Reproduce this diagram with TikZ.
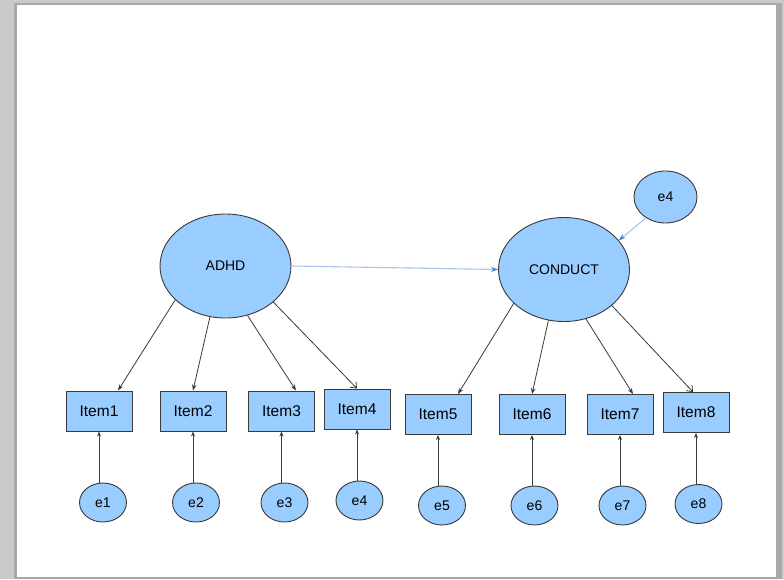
\documentclass[tikz,border=0pt]{standalone}
\usepackage{fontspec}
\setmainfont{Liberation Sans}
\usetikzlibrary{shapes.geometric,arrows.meta}
\definecolor{nodefill}{HTML}{99CCFF}
\definecolor{edgegray}{HTML}{3A3A3A}
\definecolor{lightblueline}{HTML}{A9C4EE}
\definecolor{bluetip}{HTML}{4A7FDB}
\definecolor{pagegray}{HTML}{C9CAC9}
\definecolor{shadowgray}{HTML}{A8A9A8}
\tikzset{
  latent/.style={ellipse, draw=edgegray, fill=nodefill, line width=0.9pt, inner sep=0pt,
    minimum width=131pt, minimum height=104pt, font=\fontsize{14}{16}\selectfont},
  errbig/.style={ellipse, draw=edgegray, fill=nodefill, line width=0.9pt, inner sep=0pt,
    minimum width=63pt, minimum height=52pt, font=\fontsize{14}{16}\selectfont},
  itembox/.style={rectangle, draw=edgegray, fill=nodefill, line width=0.9pt, inner sep=0pt,
    minimum width=66pt, minimum height=40pt, font=\fontsize{15.5}{17}\selectfont},
  errnode/.style={ellipse, draw=edgegray, fill=nodefill, line width=0.9pt, inner sep=0pt,
    minimum width=47pt, minimum height=39pt, font=\fontsize{14}{16}\selectfont},
  load/.style={draw=edgegray, line width=0.8pt, -{Stealth[length=6pt,width=4.5pt]}},
  loadopen/.style={draw=edgegray, line width=0.8pt, -{Straight Barb[length=5pt,width=8pt]}},
  errarrow/.style={draw=edgegray, line width=0.8pt, -{Stealth[length=5pt,width=4pt]}},
  bluearrow/.style={draw=lightblueline, line width=1.1pt, -{Stealth[length=7pt,width=5pt,color=bluetip,fill=bluetip]}},
}
\begin{document}
\begin{tikzpicture}[x=1pt,y=-1pt]
\useasboundingbox (0,0) rectangle (784,579);
\fill[pagegray] (0,0) rectangle (784,579);
\fill[shadowgray] (14,3) rectangle (782,579);
\fill[white] (17,5) rectangle (776,577);

\node[latent] (adhd) at (225.5,266) {ADHD};
\node[latent] (conduct) at (564,269.5) {CONDUCT};
\node[errbig] (etop) at (665.5,197) {e4};

\node[itembox] (i1) at (99,411) {Item1};
\node[itembox] (i2) at (193,411) {Item2};
\node[itembox] (i3) at (281.5,411) {Item3};
\node[itembox] (i4) at (357,409) {Item4};
\node[itembox] (i5) at (438,414.5) {Item5};
\node[itembox] (i6) at (532,414.5) {Item6};
\node[itembox] (i7) at (620,414.5) {Item7};
\node[itembox] (i8) at (696,412.5) {Item8};

\node[errnode] (e1) at (103,502.5) {e1};
\node[errnode] (e2) at (196,502.5) {e2};
\node[errnode] (e3) at (284.5,502.5) {e3};
\node[errnode] (e4) at (359.5,500.5) {e4};
\node[errnode] (e5) at (442,505.5) {e5};
\node[errnode] (e6) at (534.5,505.5) {e6};
\node[errnode] (e7) at (622.5,505.5) {e7};
\node[errnode] (e8) at (698.5,504) {e8};

\draw[load] (adhd.214) -- ([xshift=19pt]i1.north);
\draw[load] (adhd.253) -- (i2.north);
\draw[load] (adhd.294) -- ([xshift=14.5pt]i3.north);
\draw[loadopen] (adhd.323) -- (i4.north);
\draw[load] (conduct.214) -- ([xshift=20pt]i5.north);
\draw[load] (conduct.253) -- (i6.north);
\draw[load] (conduct.294) -- ([xshift=13pt]i7.north);
\draw[loadopen] (conduct.323) -- ([xshift=-3pt]i8.north);

\draw[errarrow] (e1.north -| i1.south) -- (i1.south);
\draw[errarrow] (e2.north -| i2.south) -- (i2.south);
\draw[errarrow] (e3.north -| i3.south) -- (i3.south);
\draw[errarrow] (e4.north -| i4.south) -- (i4.south);
\draw[errarrow] (e5.north -| i5.south) -- (i5.south);
\draw[errarrow] (e6.north -| i6.south) -- (i6.south);
\draw[errarrow] (e7.north -| i7.south) -- (i7.south);
\draw[errarrow] (e8.north -| i8.south) -- (i8.south);

\draw[bluearrow] (adhd.east) -- (conduct.west);
\draw[bluearrow] (etop.227) -- (conduct.28);
\end{tikzpicture}
\end{document}
